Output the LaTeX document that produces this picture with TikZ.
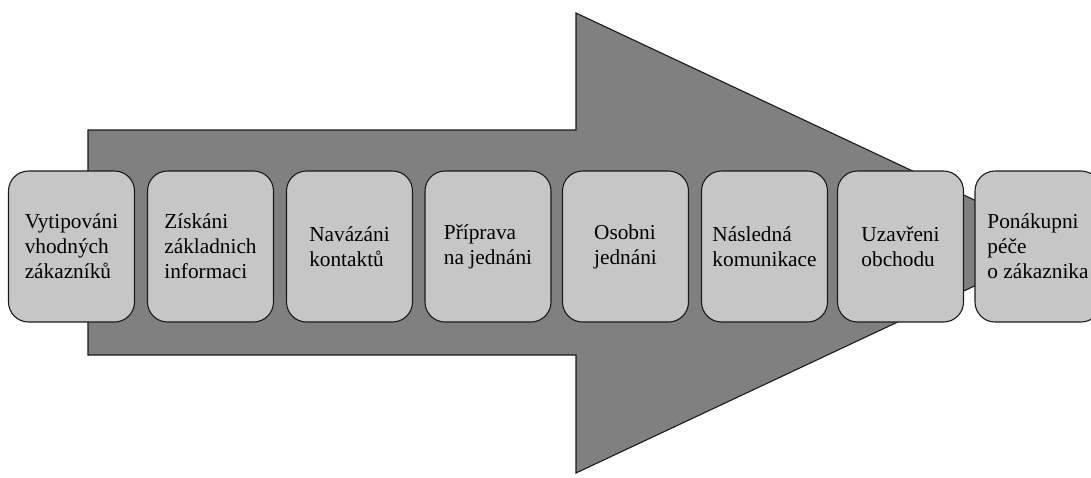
\documentclass[tikz,border=0pt]{standalone}
\usepackage{fontspec}
\setmainfont{Liberation Serif}
\definecolor{arrowgray}{HTML}{808080}
\definecolor{boxgray}{HTML}{C6C6C6}
\definecolor{edge}{HTML}{1A1A1A}
\begin{document}
\begin{tikzpicture}[x=1pt,y=-1pt,
  stagebox/.style={draw=edge, line width=1.1pt, fill=boxgray, rounded corners=20pt,
    minimum width=126pt, minimum height=151pt, inner sep=0pt, align=left,
    font=\fontsize{21.3}{25}\selectfont, text=black},
  bigarrow/.style={draw=edge, line width=1.1pt, fill=arrowgray}]
\useasboundingbox (0,0) rectangle (1091,477);
\clip (0,0) rectangle (1091,477);
\draw[bigarrow] (88,130) -- (576,130) -- (576,13) -- (1066,243) -- (576,473) -- (576,355) -- (88,355) -- cycle;
\node[stagebox] (b1) at (71.5,246.5) {Vytipováni\\vhodných\\zákazníků};
\node[stagebox] (b2) at (210.5,246.5) {Získáni\\základnich\\informaci};
\node[stagebox] (b3) at (349.5,246.5) {Navázáni\\kontaktů};
\node[stagebox] (b4) at (488,246.5) {Příprava\\na jednáni};
\node[stagebox] (b5) at (625.5,246.5) {Osobni\\jednáni};
\node[stagebox] (b6) at (764.5,246.5) {Následná\\komunikace};
\node[stagebox] (b7) at (900.5,246.5) {Uzavřeni\\obchodu};
\node[stagebox] (b8) at (1038,246.5) {Ponákupni\\péče\\o zákaznika};
\end{tikzpicture}
\end{document}
